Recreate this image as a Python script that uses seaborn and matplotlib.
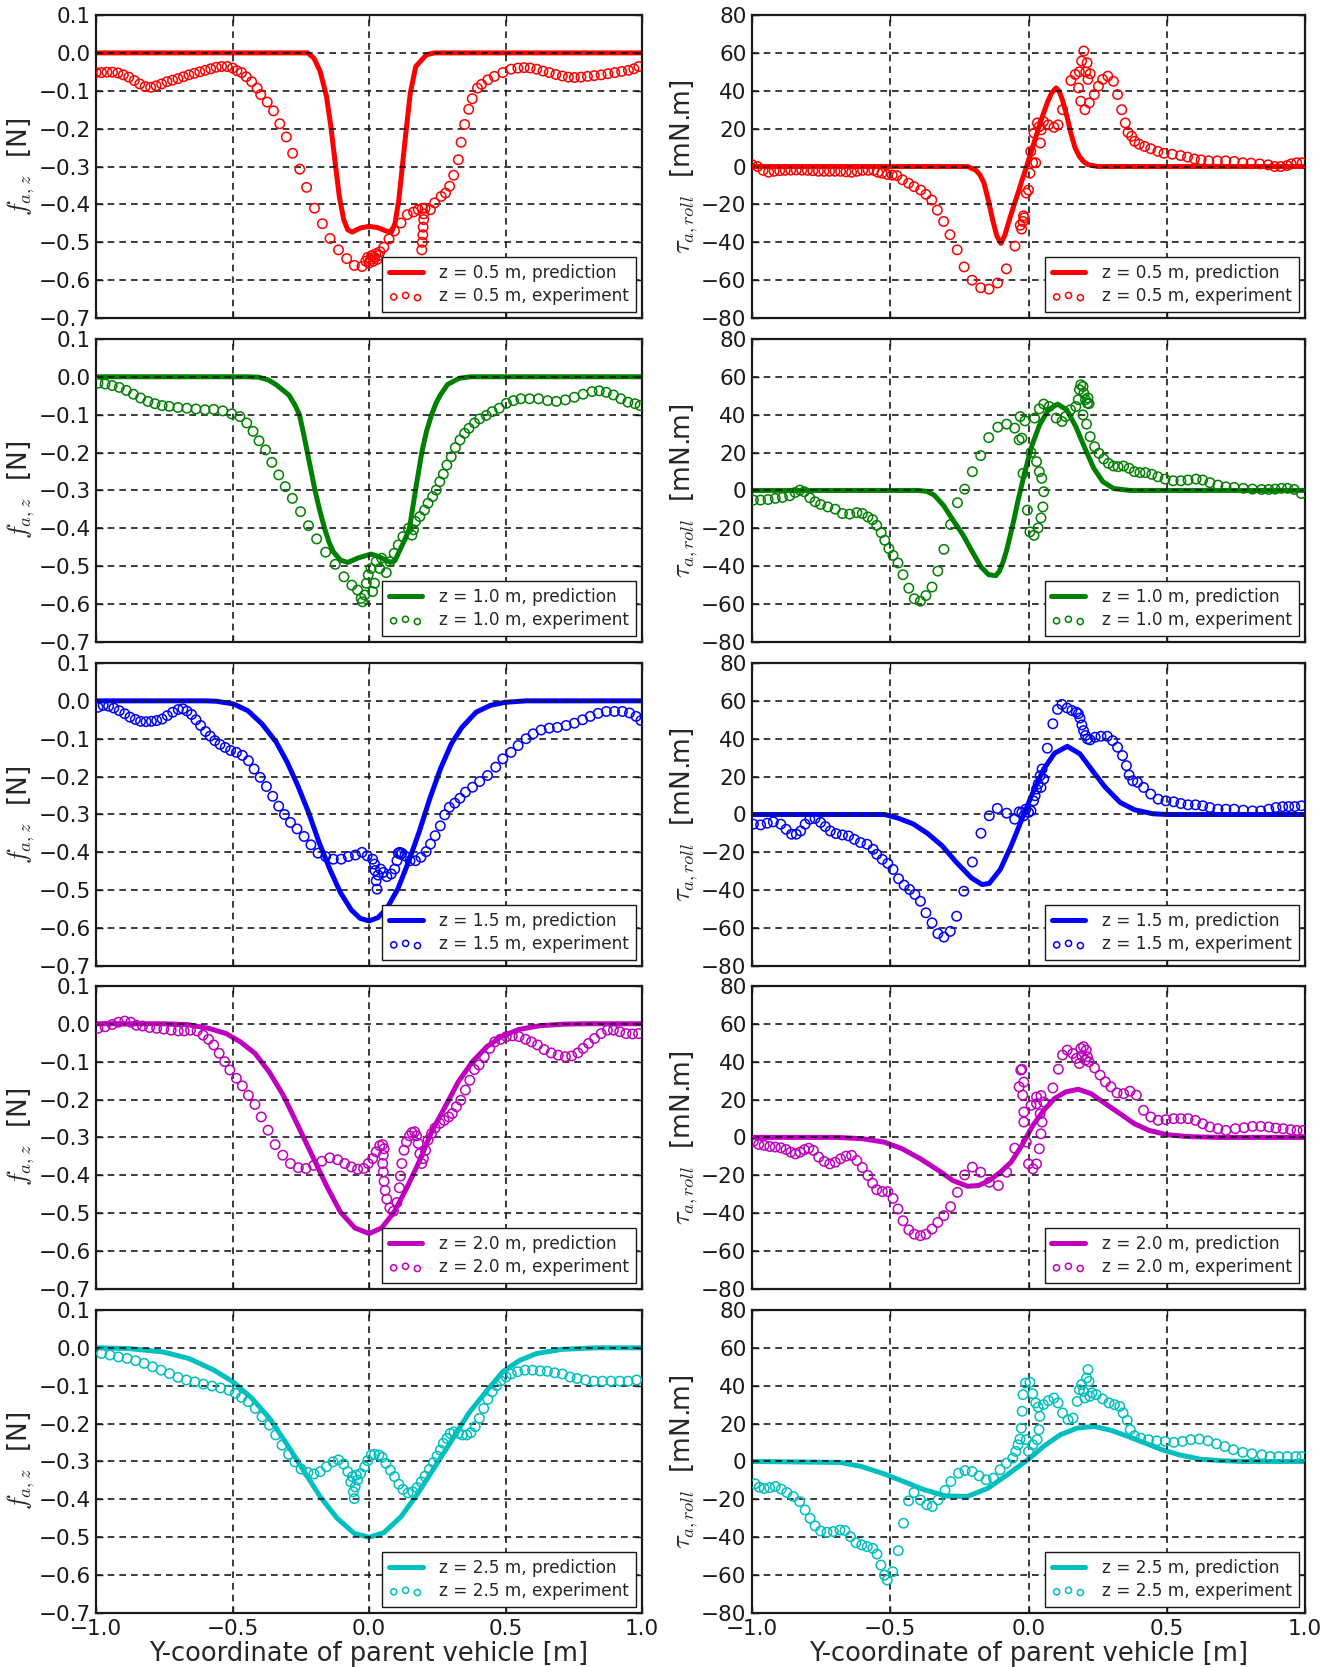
import numpy as np
import matplotlib
matplotlib.use('Agg')
import matplotlib.pyplot as plt
import seaborn as sns

heights = ['0.5', '1.0', '1.5', '2.0', '2.5']
colors = ['#ff0000', '#008000', '#0000ff', '#bf00bf', '#00bfbf']
x_ticks = [-1.0, -0.5, 0.0, 0.5, 1.0]
fz_ticks = [0.1, 0.0, -0.1, -0.2, -0.3, -0.4, -0.5, -0.6, -0.7]
tau_ticks = [80, 60, 40, 20, 0, -20, -40, -60, -80]

# ---------------- z = 0.5 m ----------------
fz_pred_05 = [(-1, 0), (-0.225, 0), (-0.202, -0.014), (-0.179, -0.049), (-0.156, -0.115),
              (-0.14, -0.194), (-0.124, -0.291), (-0.109, -0.379), (-0.093, -0.44),
              (-0.078, -0.467), (-0.062, -0.473), (-0.031, -0.462), (0.0, -0.458),
              (0.031, -0.461), (0.062, -0.47), (0.082, -0.473), (0.095, -0.45),
              (0.109, -0.388), (0.132, -0.23), (0.151, -0.106), (0.171, -0.036),
              (0.21, -0.005), (0.24, 0), (1, 0)]
fz_exp_05 = [(-1.0, -0.052), (-0.98, -0.052), (-0.96, -0.051), (-0.94, -0.051), (-0.92, -0.053),
             (-0.9, -0.058), (-0.88, -0.064), (-0.86, -0.073), (-0.84, -0.082), (-0.82, -0.089),
             (-0.8, -0.091), (-0.78, -0.087), (-0.76, -0.082), (-0.74, -0.076), (-0.72, -0.072),
             (-0.7, -0.068), (-0.68, -0.063), (-0.66, -0.058), (-0.64, -0.054), (-0.62, -0.05),
             (-0.6, -0.046), (-0.58, -0.042), (-0.56, -0.038), (-0.54, -0.036), (-0.52, -0.036),
             (-0.5, -0.04), (-0.484, -0.047), (-0.467, -0.052), (-0.45, -0.063), (-0.43, -0.076),
             (-0.41, -0.093), (-0.397, -0.11), (-0.373, -0.13), (-0.35, -0.153), (-0.327, -0.187),
             (-0.303, -0.222), (-0.28, -0.265), (-0.254, -0.307), (-0.229, -0.355), (-0.2, -0.41),
             (-0.171, -0.451), (-0.143, -0.49), (-0.112, -0.52), (-0.082, -0.543), (-0.054, -0.561),
             (-0.026, -0.564), (-0.012, -0.55), (-0.005, -0.54), (0.0, -0.555), (0.005, -0.545),
             (0.01, -0.535), (0.015, -0.55), (0.02, -0.54), (0.025, -0.53), (0.03, -0.545),
             (0.035, -0.535), (0.04, -0.525), (0.054, -0.513), (0.073, -0.491), (0.093, -0.47),
             (0.117, -0.449), (0.14, -0.427), (0.163, -0.42), (0.18, -0.414), (0.195, -0.41),
             (0.2, -0.425), (0.2, -0.44), (0.198, -0.46), (0.197, -0.48), (0.195, -0.5),
             (0.193, -0.52), (0.205, -0.41), (0.225, -0.414), (0.24, -0.396), (0.264, -0.379),
             (0.28, -0.37), (0.295, -0.352), (0.31, -0.323), (0.327, -0.282), (0.337, -0.236),
             (0.35, -0.189), (0.365, -0.149), (0.378, -0.121), (0.397, -0.093), (0.412, -0.083),
             (0.435, -0.071), (0.459, -0.062), (0.49, -0.052), (0.52, -0.043), (0.545, -0.04),
             (0.568, -0.039), (0.59, -0.04), (0.614, -0.043), (0.637, -0.048), (0.66, -0.052),
             (0.684, -0.057), (0.708, -0.061), (0.73, -0.064), (0.752, -0.065), (0.776, -0.064),
             (0.8, -0.062), (0.825, -0.06), (0.85, -0.058), (0.875, -0.055), (0.9, -0.052),
             (0.925, -0.049), (0.95, -0.046), (0.97, -0.042), (0.988, -0.036)]
tau_pred_05 = [(-1, 0), (-0.22, 0), (-0.19, -2), (-0.175, -4.5), (-0.161, -8.8), (-0.145, -18),
               (-0.13, -28), (-0.115, -36.5), (-0.1, -40.6), (-0.085, -36), (-0.069, -28),
               (-0.054, -21), (-0.038, -14), (-0.023, -7), (-0.008, -0.5), (0.008, 7),
               (0.023, 14), (0.038, 21), (0.054, 28), (0.07, 34.5), (0.084, 39), (0.1, 41.5),
               (0.112, 39.5), (0.123, 35), (0.138, 27), (0.153, 17.7), (0.168, 10),
               (0.184, 5.3), (0.2, 2.5), (0.215, 1), (0.25, 0), (1, 0)]
tau_exp_05 = [(-1.0, 1), (-0.98, 0), (-0.96, -2), (-0.94, -3), (-0.92, -2.5), (-0.9, -2.2),
              (-0.88, -2), (-0.86, -1.9), (-0.84, -1.8), (-0.82, -1.9), (-0.8, -2), (-0.78, -2.2),
              (-0.76, -2.5), (-0.74, -2.5), (-0.72, -2.5), (-0.7, -2.5), (-0.68, -2.5),
              (-0.66, -2.8), (-0.64, -3), (-0.62, -2.5), (-0.6, -2), (-0.58, -2), (-0.56, -2),
              (-0.545, -3), (-0.53, -3.5), (-0.51, -4.2), (-0.493, -4.5), (-0.476, -4.8),
              (-0.456, -7), (-0.434, -8.8), (-0.414, -10.6), (-0.39, -12.4), (-0.371, -14.7),
              (-0.35, -17.7), (-0.33, -23), (-0.307, -29), (-0.284, -36), (-0.258, -44),
              (-0.233, -53), (-0.204, -60), (-0.173, -64), (-0.143, -64.7), (-0.112, -61.5),
              (-0.08, -54), (-0.049, -42), (-0.03, -31), (-0.025, -33), (-0.02, -29),
              (-0.018, -26), (-0.015, -27), (-0.008, -14), (0.0, -12.4), (0.005, -3.5),
              (0.008, 8), (0.015, 2), (0.026, 2), (0.02, 17.7), (0.032, 23), (0.038, 21),
              (0.043, 12.4), (0.046, 19.4), (0.054, 23.8), (0.072, 22), (0.092, 20.7),
              (0.107, 22), (0.123, 30), (0.153, 45.4), (0.169, 48.6), (0.181, 41.5),
              (0.184, 50), (0.189, 34.5), (0.192, 55.7), (0.2, 61), (0.204, 30), (0.207, 50),
              (0.212, 54.8), (0.215, 46), (0.22, 33.6), (0.223, 49), (0.238, 38), (0.253, 42.4),
              (0.268, 46), (0.287, 47.7), (0.307, 45), (0.322, 38), (0.337, 30), (0.35, 23),
              (0.36, 18), (0.373, 16), (0.384, 13.3), (0.4, 11.8), (0.42, 10.6), (0.442, 9.4),
              (0.468, 8), (0.49, 7), (0.52, 6.5), (0.55, 5.8), (0.575, 5), (0.6, 4),
              (0.624, 3.5), (0.652, 3), (0.683, 3), (0.713, 3), (0.744, 2.7), (0.775, 2),
              (0.805, 1.8), (0.836, 1.4), (0.867, 0.9), (0.89, 0), (0.912, 0), (0.935, 0.5),
              (0.95, 1.4), (0.97, 2), (0.99, 2)]

# ---------------- z = 1.0 m ----------------
fz_pred_10 = [(-1, 0), (-0.45, 0), (-0.405, -0.001), (-0.37, -0.008), (-0.34, -0.021),
              (-0.294, -0.048), (-0.272, -0.074), (-0.255, -0.1), (-0.24, -0.15), (-0.226, -0.2),
              (-0.212, -0.25), (-0.198, -0.3), (-0.181, -0.352), (-0.163, -0.4),
              (-0.147, -0.436), (-0.131, -0.462), (-0.105, -0.484),
              (-0.078, -0.49), (-0.039, -0.478), (0.007, -0.468), (0.04, -0.476),
              (0.078, -0.49), (0.095, -0.485), (0.111, -0.46), (0.131, -0.43),
              (0.148, -0.4), (0.17, -0.3), (0.193, -0.2), (0.21, -0.145), (0.229, -0.1),
              (0.245, -0.07), (0.261, -0.048), (0.288, -0.02), (0.33, -0.004), (0.37, 0), (1, 0)]
fz_exp_10 = [(-0.993, -0.017), (-0.967, -0.019), (-0.941, -0.023), (-0.915, -0.028),
             (-0.889, -0.036), (-0.863, -0.046), (-0.837, -0.056), (-0.81, -0.065),
             (-0.784, -0.071), (-0.758, -0.076), (-0.732, -0.078), (-0.7, -0.081),
             (-0.667, -0.083), (-0.634, -0.085), (-0.601, -0.087), (-0.569, -0.086),
             (-0.536, -0.09), (-0.503, -0.098), (-0.473, -0.105), (-0.448, -0.122),
             (-0.425, -0.144), (-0.403, -0.169), (-0.379, -0.193), (-0.356, -0.226),
             (-0.331, -0.259), (-0.307, -0.29), (-0.281, -0.321), (-0.251, -0.356),
             (-0.222, -0.393), (-0.192, -0.428), (-0.159, -0.463), (-0.124, -0.495),
             (-0.092, -0.528), (-0.063, -0.55), (-0.042, -0.563), (-0.029, -0.585),
             (-0.024, -0.594), (-0.016, -0.576), (-0.01, -0.545), (-0.003, -0.523),
             (0.007, -0.506), (0.013, -0.567), (0.02, -0.545), (0.026, -0.488),
             (0.039, -0.506), (0.046, -0.479), (0.063, -0.517), (0.076, -0.488),
             (0.092, -0.466), (0.107, -0.444), (0.124, -0.422), (0.144, -0.4),
             (0.157, -0.418), (0.163, -0.404), (0.17, -0.382), (0.186, -0.369),
             (0.203, -0.352), (0.216, -0.334), (0.233, -0.316), (0.246, -0.299),
             (0.259, -0.277), (0.272, -0.257), (0.285, -0.233), (0.301, -0.211),
             (0.316, -0.187), (0.333, -0.167), (0.35, -0.149), (0.366, -0.136),
             (0.386, -0.122), (0.405, -0.111), (0.429, -0.102), (0.451, -0.092),
             (0.477, -0.083), (0.503, -0.07), (0.529, -0.063), (0.556, -0.058),
             (0.588, -0.058), (0.621, -0.058), (0.654, -0.063), (0.686, -0.065),
             (0.719, -0.061), (0.752, -0.054), (0.784, -0.046), (0.817, -0.039),
             (0.843, -0.037), (0.869, -0.041), (0.895, -0.048), (0.922, -0.058),
             (0.948, -0.067), (0.974, -0.071), (0.993, -0.076)]
tau_pred_10 = [(-1, 0), (-0.4, 0), (-0.367, -0.5), (-0.341, -2.5), (-0.308, -7.8),
               (-0.276, -15), (-0.236, -23.7), (-0.203, -32.5), (-0.171, -40.5),
               (-0.144, -44.5), (-0.118, -45), (-0.105, -42.5), (-0.092, -37.8),
               (-0.079, -31.5), (-0.066, -23.7), (-0.052, -15), (-0.039, -6), (-0.026, 2),
               (-0.013, 9.9), (0.013, 24), (0.04, 34.6), (0.072, 42.6),
               (0.105, 45.6), (0.138, 42.6), (0.171, 33.7), (0.204, 22.3), (0.236, 11.7),
               (0.269, 4.6), (0.308, 1), (0.367, 0), (1, 0)]
tau_exp_10 = [(-0.995, -5.1), (-0.969, -5.1), (-0.942, -4.8), (-0.916, -4.2), (-0.89, -3.7),
              (-0.864, -2.8), (-0.844, -1.1), (-0.827, 0.2), (-0.811, -0.7), (-0.791, -3.9),
              (-0.772, -6), (-0.752, -7.4), (-0.726, -8.7), (-0.699, -9.9), (-0.673, -12.2),
              (-0.647, -12.5), (-0.621, -11.7), (-0.601, -12.2), (-0.581, -14), (-0.564, -15.4),
              (-0.549, -18.4), (-0.533, -22.3), (-0.52, -26.3), (-0.505, -30.7), (-0.49, -34.3),
              (-0.472, -38.3), (-0.454, -44.5), (-0.433, -51.6), (-0.413, -57.2),
              (-0.391, -58.5), (-0.371, -55.5), (-0.349, -51), (-0.328, -42.6),
              (-0.306, -31.1), (-0.282, -18), (-0.257, -6.5), (-0.231, 0.7), (-0.203, 9.9),
              (-0.173, 18.4), (-0.144, 27.9), (-0.111, 33.4), (-0.079, 35), (-0.05, 32.9),
              (-0.034, 26.7), (-0.024, 27.6), (-0.03, 39), (-0.013, 36.7), (-0.02, 9),
              (-0.004, -10.4), (0.005, -21.9), (0.02, -23.7), (0.009, 20), (0.022, 38.2),
              (0.029, 15.2), (0.039, 9.9), (0.048, 6.4), (0.055, -0.7), (0.052, -8.7),
              (0.045, -14.5), (0.035, -19.8), (0.039, 43.1), (0.055, 45.6), (0.075, 44.3),
              (0.1, 38.2), (0.121, 36.4), (0.134, 39), (0.152, 42.6), (0.171, 44.3),
              (0.18, 47.9), (0.184, 53.2), (0.189, 55.8), (0.197, 54.9), (0.2, 51.4),
              (0.206, 47.9), (0.213, 46.1), (0.219, 45.8), (0.215, 48.8), (0.197, 39.9),
              (0.21, 35), (0.223, 28.4), (0.239, 23.1), (0.255, 19.6), (0.272, 16.6),
              (0.289, 14.3), (0.307, 12.9), (0.324, 12.5), (0.344, 12.9), (0.364, 11.7),
              (0.383, 9.9), (0.403, 9.4), (0.423, 9.4), (0.446, 8.5), (0.468, 7.2),
              (0.494, 6), (0.523, 5.1), (0.551, 5.1), (0.577, 5.5), (0.606, 6), (0.63, 5.5),
              (0.656, 4.1), (0.685, 2.8), (0.714, 1.9), (0.744, 1.6), (0.777, 1.1),
              (0.81, 0.7), (0.843, 0.5), (0.869, 0.5), (0.892, 0.7), (0.915, 1.1),
              (0.937, 1.1), (0.961, 0.5), (0.987, -1.6)]

# ---------------- z = 1.5 m ----------------
fz_pred_15 = [(-1, 0), (-0.6, 0), (-0.56, -0.001), (-0.497, -0.008), (-0.444, -0.026),
              (-0.392, -0.061), (-0.34, -0.109), (-0.3, -0.162), (-0.261, -0.224),
              (-0.222, -0.294), (-0.183, -0.374), (-0.144, -0.444), (-0.105, -0.506),
              (-0.065, -0.552), (-0.033, -0.574), (0.0, -0.581), (0.033, -0.572),
              (0.065, -0.548), (0.105, -0.497), (0.144, -0.426), (0.183, -0.347),
              (0.222, -0.259), (0.261, -0.18), (0.301, -0.114), (0.34, -0.07),
              (0.392, -0.03), (0.444, -0.012), (0.497, -0.004), (0.575, 0), (1, 0)]
fz_exp_15 = [(-0.993, -0.017), (-0.974, -0.012), (-0.954, -0.014), (-0.935, -0.019),
             (-0.915, -0.026), (-0.895, -0.034), (-0.876, -0.043), (-0.856, -0.049),
             (-0.837, -0.054), (-0.817, -0.055), (-0.797, -0.054), (-0.778, -0.052),
             (-0.758, -0.048), (-0.739, -0.039), (-0.719, -0.03), (-0.699, -0.023),
             (-0.682, -0.021), (-0.667, -0.027), (-0.65, -0.036), (-0.634, -0.05),
             (-0.617, -0.065), (-0.599, -0.081), (-0.582, -0.093), (-0.565, -0.105),
             (-0.546, -0.115), (-0.527, -0.123), (-0.507, -0.131), (-0.486, -0.136),
             (-0.464, -0.144), (-0.442, -0.158), (-0.421, -0.18), (-0.399, -0.202),
             (-0.376, -0.226), (-0.353, -0.252), (-0.331, -0.278), (-0.31, -0.3),
             (-0.288, -0.321), (-0.264, -0.338), (-0.238, -0.358), (-0.213, -0.38),
             (-0.187, -0.402), (-0.159, -0.411), (-0.131, -0.418), (-0.102, -0.418),
             (-0.076, -0.411), (-0.05, -0.407), (-0.026, -0.4), (-0.007, -0.409),
             (0.013, -0.418), (0.02, -0.431), (0.022, -0.448), (0.026, -0.475),
             (0.029, -0.497), (0.033, -0.46), (0.042, -0.444), (0.052, -0.453),
             (0.065, -0.464), (0.081, -0.457), (0.094, -0.444), (0.102, -0.422),
             (0.107, -0.402), (0.112, -0.4), (0.116, -0.405), (0.12, -0.402),
             (0.131, -0.409), (0.15, -0.422), (0.17, -0.422), (0.19, -0.413),
             (0.209, -0.398), (0.225, -0.378), (0.242, -0.356), (0.261, -0.33),
             (0.277, -0.301), (0.294, -0.281), (0.314, -0.27), (0.333, -0.257),
             (0.353, -0.241), (0.379, -0.228), (0.405, -0.213), (0.434, -0.197),
             (0.464, -0.175), (0.49, -0.153), (0.52, -0.136), (0.546, -0.118),
             (0.575, -0.1), (0.601, -0.087), (0.63, -0.077), (0.66, -0.072),
             (0.69, -0.07), (0.722, -0.065), (0.752, -0.059), (0.782, -0.05),
             (0.81, -0.041), (0.839, -0.033), (0.869, -0.028), (0.899, -0.028),
             (0.928, -0.028), (0.954, -0.032), (0.978, -0.041), (0.996, -0.052)]
tau_pred_15 = [(-1, 0), (-0.52, 0), (-0.47, -2), (-0.417, -5), (-0.365, -10), (-0.312, -16.6),
               (-0.26, -25.4), (-0.207, -33.4), (-0.168, -37), (-0.142, -36.4),
               (-0.102, -29), (-0.063, -16.6), (-0.024, -2.5), (0.016, 11.7), (0.055, 24),
               (0.094, 32.3), (0.14, 36), (0.186, 32), (0.232, 23), (0.278, 14.3),
               (0.331, 6.4), (0.383, 2.5), (0.449, 0.4), (0.5, 0), (1, 0)]
tau_exp_15 = [(-0.995, -5.1), (-0.969, -5.5), (-0.945, -4.6), (-0.923, -3.9), (-0.896, -5.1),
              (-0.877, -7.8), (-0.857, -10.4), (-0.84, -10.4), (-0.824, -8.7), (-0.808, -5.1),
              (-0.791, -2.5), (-0.772, -2.1), (-0.752, -4.2), (-0.735, -6.4), (-0.717, -8.7),
              (-0.696, -10.1), (-0.673, -10.8), (-0.651, -11.3), (-0.63, -13.1),
              (-0.608, -14.8), (-0.584, -15.7), (-0.562, -18.4), (-0.549, -21),
              (-0.529, -23.7), (-0.509, -25.8), (-0.49, -29), (-0.47, -33.9), (-0.45, -37.3),
              (-0.43, -39.6), (-0.411, -42.2), (-0.391, -45.8), (-0.371, -51.9),
              (-0.349, -57.2), (-0.328, -62.9), (-0.306, -64.7), (-0.283, -61.7),
              (-0.26, -53.7), (-0.234, -40.5), (-0.203, -25.1), (-0.172, -9.9),
              (-0.142, -0.7), (-0.113, 3.2), (-0.079, 0.7), (-0.05, -2.5), (-0.034, 1.4),
              (-0.024, 1.1), (-0.017, -0.7), (-0.01, 2.8), (0.0, 1.1), (0.009, 1.9),
              (0.018, 7.2), (0.024, 9.9), (0.029, 13.4), (0.035, 16.1), (0.042, 20.5),
              (0.049, 24), (0.055, 18.7), (0.045, 14.3), (0.068, 35), (0.088, 47.9),
              (0.105, 55.5), (0.121, 58.1), (0.14, 56.2), (0.157, 54.9), (0.173, 54),
              (0.18, 53.2), (0.186, 50.9), (0.193, 47.3), (0.199, 44.3), (0.206, 41.7),
              (0.213, 39.9), (0.223, 39.4), (0.241, 40.8), (0.262, 41.3), (0.285, 41.3),
              (0.304, 39), (0.322, 35.5), (0.34, 31.1), (0.354, 25.8), (0.364, 20.8),
              (0.377, 17.8), (0.394, 17), (0.416, 14.3), (0.442, 10.8), (0.469, 8.1),
              (0.497, 7.2), (0.525, 6.7), (0.551, 5.8), (0.577, 5.1), (0.604, 5.1),
              (0.63, 4.6), (0.656, 3.7), (0.685, 2.8), (0.714, 2.8), (0.744, 2.8),
              (0.777, 2.3), (0.81, 1.9), (0.84, 1.9), (0.869, 2.8), (0.895, 3.7),
              (0.919, 4.1), (0.941, 4.2), (0.963, 4.2), (0.987, 4.6)]

# ---------------- z = 2.0 m ----------------
fz_pred_20 = [(-1, 0), (-0.758, 0), (-0.667, -0.002), (-0.588, -0.012), (-0.523, -0.026),
              (-0.471, -0.048), (-0.418, -0.078), (-0.366, -0.127), (-0.314, -0.189),
              (-0.261, -0.268), (-0.209, -0.347), (-0.157, -0.426), (-0.105, -0.497),
              (-0.052, -0.539), (0.0, -0.554), (0.046, -0.539), (0.092, -0.497),
              (0.137, -0.435), (0.183, -0.365), (0.229, -0.285), (0.275, -0.224),
              (0.327, -0.153), (0.379, -0.1), (0.431, -0.061), (0.484, -0.034),
              (0.549, -0.015), (0.627, -0.005), (0.719, -0.001), (0.81, 0), (1, 0)]
fz_exp_20 = [(-0.993, -0.012), (-0.967, -0.008), (-0.941, -0.002), (-0.918, 0.004),
             (-0.895, 0.007), (-0.873, 0.004), (-0.852, -0.004), (-0.83, -0.006),
             (-0.804, -0.01), (-0.778, -0.012), (-0.752, -0.014), (-0.725, -0.017),
             (-0.699, -0.019), (-0.677, -0.019), (-0.654, -0.017), (-0.63, -0.019),
             (-0.608, -0.03), (-0.588, -0.041), (-0.569, -0.056), (-0.549, -0.078),
             (-0.529, -0.1), (-0.51, -0.122), (-0.486, -0.144), (-0.464, -0.164),
             (-0.442, -0.189), (-0.418, -0.213), (-0.395, -0.246), (-0.37, -0.281),
             (-0.344, -0.319), (-0.316, -0.347), (-0.288, -0.369), (-0.259, -0.38),
             (-0.231, -0.382), (-0.203, -0.374), (-0.173, -0.363), (-0.144, -0.354),
             (-0.115, -0.359), (-0.089, -0.369), (-0.065, -0.378), (-0.042, -0.384),
             (-0.02, -0.382), (-0.003, -0.369), (0.013, -0.356), (0.026, -0.338),
             (0.039, -0.322), (0.05, -0.319), (0.055, -0.33), (0.052, -0.347),
             (0.05, -0.369), (0.052, -0.391), (0.055, -0.416), (0.059, -0.44),
             (0.065, -0.463), (0.076, -0.486), (0.089, -0.495), (0.102, -0.472),
             (0.111, -0.433), (0.115, -0.402), (0.12, -0.369), (0.128, -0.334),
             (0.137, -0.312), (0.148, -0.296), (0.157, -0.287), (0.167, -0.285),
             (0.174, -0.296), (0.18, -0.316), (0.186, -0.343), (0.193, -0.369),
             (0.199, -0.356), (0.207, -0.334), (0.216, -0.307), (0.229, -0.29),
             (0.242, -0.275), (0.259, -0.263), (0.275, -0.255), (0.292, -0.246),
             (0.305, -0.237), (0.32, -0.219), (0.336, -0.202), (0.353, -0.175),
             (0.369, -0.149), (0.386, -0.121), (0.403, -0.109), (0.422, -0.087),
             (0.442, -0.065), (0.46, -0.048), (0.481, -0.041), (0.503, -0.034),
             (0.525, -0.032), (0.549, -0.034), (0.573, -0.041), (0.595, -0.048),
             (0.617, -0.056), (0.641, -0.068), (0.667, -0.077), (0.693, -0.083),
             (0.719, -0.087), (0.742, -0.085), (0.765, -0.077), (0.784, -0.065),
             (0.804, -0.052), (0.826, -0.039), (0.85, -0.026), (0.873, -0.017),
             (0.895, -0.017), (0.918, -0.021), (0.941, -0.026), (0.965, -0.027),
             (0.987, -0.026)]
tau_pred_20 = [(-1, 0), (-0.693, 0), (-0.601, -0.7), (-0.522, -2.5), (-0.457, -6),
               (-0.391, -11.3), (-0.325, -17.5), (-0.273, -22.8), (-0.22, -25.8),
               (-0.181, -25.4), (-0.142, -22.8), (-0.102, -18.4), (-0.063, -13.1),
               (-0.024, -4.2), (0.016, 6.4), (0.055, 14.3), (0.094, 20.5), (0.134, 24),
               (0.18, 25.4), (0.226, 23.1), (0.278, 17.8), (0.331, 12.5), (0.383, 7.2),
               (0.436, 3.7), (0.501, 1.4), (0.58, 0.4), (0.685, 0), (1, 0)]
tau_exp_20 = [(-0.995, -2.1), (-0.976, -3.7), (-0.956, -4.2), (-0.936, -4.8), (-0.916, -5.1),
              (-0.896, -5.5), (-0.877, -6.4), (-0.86, -7.8), (-0.843, -8.7), (-0.826, -7.8),
              (-0.811, -6.5), (-0.795, -5.7), (-0.778, -6.9), (-0.759, -10.4), (-0.739, -12.7),
              (-0.719, -14), (-0.699, -13.1), (-0.68, -11.3), (-0.66, -9.9), (-0.64, -9.5),
              (-0.621, -12.2), (-0.601, -15.9), (-0.581, -20.1), (-0.564, -24.2),
              (-0.549, -27.6), (-0.529, -28.6), (-0.509, -28.6), (-0.49, -32.2),
              (-0.472, -37.8), (-0.454, -44), (-0.433, -48.8), (-0.413, -51.1),
              (-0.391, -51.9), (-0.371, -51.1), (-0.349, -48.4), (-0.328, -44.9),
              (-0.306, -41.3), (-0.282, -36.6), (-0.257, -29), (-0.231, -19.8),
              (-0.203, -15.7), (-0.173, -18.4), (-0.142, -23.7), (-0.109, -25.4),
              (-0.079, -18.4), (-0.05, -5.7), (-0.034, 26.7), (-0.028, 35.5), (-0.024, 36),
              (-0.017, 29.2), (-0.021, 22.3), (-0.017, 13.4), (-0.017, 8.1), (-0.008, -2.5),
              (0.0, -14), (0.016, -16.6), (0.029, -14), (0.039, -6), (0.045, 1.9),
              (0.049, 8.1), (0.042, 12.5), (0.029, 17.8), (0.009, 16.9), (0.029, 21.3),
              (0.045, 22.1), (0.055, 18.7), (0.088, 26.1), (0.108, 36), (0.123, 43.5),
              (0.14, 46.1), (0.16, 44.3), (0.173, 41.7), (0.184, 39), (0.189, 47),
              (0.199, 47.9), (0.209, 46.1), (0.213, 42.6), (0.219, 39.9), (0.206, 40.8),
              (0.193, 43.1), (0.239, 36.7), (0.259, 32.9), (0.278, 29.3), (0.298, 26.7),
              (0.32, 23.5), (0.344, 23.1), (0.367, 24.4), (0.39, 22.3), (0.416, 14.3),
              (0.442, 10.8), (0.469, 9), (0.497, 9.4), (0.525, 9.9), (0.551, 9.9),
              (0.577, 9.9), (0.604, 9), (0.63, 7.2), (0.656, 5.5), (0.685, 4.6),
              (0.714, 3.7), (0.748, 4.6), (0.78, 5.1), (0.81, 5.8), (0.84, 5.8),
              (0.869, 5.5), (0.895, 4.9), (0.921, 4.6), (0.948, 4.1), (0.971, 3.7),
              (0.993, 3.7)]

# ---------------- z = 2.5 m ----------------
fz_pred_25 = [(-1, 0), (-0.879, -0.002), (-0.754, -0.011), (-0.661, -0.028), (-0.568, -0.059),
              (-0.498, -0.09), (-0.428, -0.134), (-0.365, -0.186), (-0.303, -0.252),
              (-0.241, -0.323), (-0.179, -0.393), (-0.117, -0.45), (-0.054, -0.49),
              (0.0, -0.5), (0.054, -0.488), (0.117, -0.446), (0.179, -0.384),
              (0.241, -0.314), (0.303, -0.244), (0.365, -0.173), (0.428, -0.116),
              (0.49, -0.063), (0.552, -0.033), (0.614, -0.015), (0.708, -0.004),
              (0.832, 0), (1, 0)]
fz_exp_25 = [(-0.98, -0.015), (-0.949, -0.019), (-0.918, -0.024), (-0.886, -0.028),
             (-0.855, -0.034), (-0.824, -0.041), (-0.793, -0.05), (-0.762, -0.059),
             (-0.731, -0.068), (-0.7, -0.078), (-0.669, -0.085), (-0.638, -0.09),
             (-0.607, -0.096), (-0.575, -0.101), (-0.544, -0.106), (-0.513, -0.112),
             (-0.49, -0.12), (-0.467, -0.131), (-0.443, -0.142), (-0.417, -0.16),
             (-0.392, -0.182), (-0.365, -0.204), (-0.342, -0.23), (-0.319, -0.257),
             (-0.295, -0.281), (-0.272, -0.301), (-0.249, -0.32), (-0.224, -0.329),
             (-0.202, -0.333), (-0.179, -0.327), (-0.156, -0.314), (-0.132, -0.301),
             (-0.112, -0.296), (-0.093, -0.307), (-0.078, -0.327), (-0.067, -0.354),
             (-0.058, -0.38), (-0.054, -0.398), (-0.051, -0.367), (-0.047, -0.336),
             (-0.061, -0.34), (-0.042, -0.349), (-0.031, -0.332), (-0.016, -0.314),
             (-0.005, -0.298), (0.008, -0.283), (0.02, -0.281), (0.036, -0.283),
             (0.048, -0.289), (0.062, -0.305), (0.078, -0.323), (0.093, -0.34),
             (0.109, -0.36), (0.124, -0.374), (0.143, -0.383), (0.16, -0.38),
             (0.176, -0.369), (0.191, -0.354), (0.205, -0.339), (0.221, -0.321),
             (0.236, -0.303), (0.249, -0.286), (0.261, -0.27), (0.272, -0.252),
             (0.285, -0.239), (0.297, -0.226), (0.311, -0.222), (0.327, -0.226),
             (0.342, -0.23), (0.358, -0.23), (0.373, -0.224), (0.389, -0.208),
             (0.404, -0.186), (0.42, -0.16), (0.435, -0.136), (0.451, -0.116),
             (0.467, -0.1), (0.482, -0.087), (0.502, -0.077), (0.521, -0.069),
             (0.544, -0.063), (0.571, -0.059), (0.599, -0.059), (0.627, -0.061),
             (0.653, -0.062), (0.68, -0.066), (0.708, -0.069), (0.736, -0.077),
             (0.762, -0.081), (0.793, -0.085), (0.824, -0.088), (0.855, -0.088),
             (0.886, -0.088), (0.918, -0.088), (0.949, -0.088), (0.98, -0.085)]
tau_pred_25 = [(-1, 0), (-0.682, -0.5), (-0.606, -2.6), (-0.529, -6.2), (-0.452, -10.6),
               (-0.376, -15), (-0.299, -18.2), (-0.222, -18.5), (-0.146, -14.1),
               (-0.069, -6.2), (0.0, 1.2), (0.054, 7.9), (0.115, 14.1), (0.176, 17.6),
               (0.238, 18.5), (0.299, 16.4), (0.36, 13.2), (0.422, 9.7), (0.483, 6.2),
               (0.545, 3.5), (0.621, 1.2), (0.698, 0.4), (0.775, 0), (1, 0)]
tau_exp_25 = [(-0.989, -11.8), (-0.974, -13.6), (-0.956, -14.3), (-0.936, -13.8),
              (-0.916, -13.2), (-0.894, -14.6), (-0.874, -16.4), (-0.851, -18.5),
              (-0.828, -21.2), (-0.808, -25.6), (-0.79, -30), (-0.772, -34), (-0.752, -36.7),
              (-0.729, -37.4), (-0.706, -37), (-0.682, -36.2), (-0.664, -36.5),
              (-0.644, -39.7), (-0.624, -42.9), (-0.603, -44.1), (-0.583, -45),
              (-0.563, -45.9), (-0.548, -48.9), (-0.534, -54.7), (-0.521, -60),
              (-0.511, -62.6), (-0.491, -58.2), (-0.471, -47.1), (-0.452, -32.6),
              (-0.434, -20.8), (-0.414, -16.4), (-0.391, -20.3), (-0.368, -22.9),
              (-0.348, -23.8), (-0.327, -20.3), (-0.302, -15.3), (-0.281, -10.6),
              (-0.253, -6.2), (-0.23, -4.8), (-0.204, -5.3), (-0.179, -7.6), (-0.153, -9.7),
              (-0.127, -8.8), (-0.103, -4.4), (-0.08, -0.9), (-0.057, 1.8), (-0.046, 5.3),
              (-0.038, 8.8), (-0.031, 11.8), (-0.026, 17.6), (-0.023, 26.5), (-0.02, 35.3),
              (-0.011, 41.4), (0.005, 41.8), (0.015, 35.8), (0.026, 30.9), (0.035, 28.7),
              (0.041, 23.8), (0.038, 16.8), (0.031, 11.5), (0.015, 8.8), (0.0, 5.3),
              (-0.008, 11.5), (0.054, 30), (0.072, 32.1), (0.092, 33.5), (0.107, 30.9),
              (0.123, 25.6), (0.143, 22), (0.161, 22.9), (0.176, 31.7), (0.184, 37.9),
              (0.192, 40.6), (0.199, 37), (0.204, 33.5), (0.21, 44.1), (0.215, 48.5),
              (0.219, 42.3), (0.222, 34.4), (0.23, 36.2), (0.245, 35.3), (0.268, 33),
              (0.291, 30.9), (0.311, 30), (0.33, 29.1), (0.342, 25.6), (0.357, 21.7),
              (0.368, 16.8), (0.383, 13.6), (0.406, 12.3), (0.434, 11.5), (0.464, 10.9),
              (0.495, 10.6), (0.526, 10.1), (0.557, 10.6), (0.587, 11.5), (0.618, 11.8),
              (0.649, 10.9), (0.68, 9.3), (0.71, 7.9), (0.741, 6.2), (0.775, 4.8),
              (0.808, 4.1), (0.844, 3.5), (0.874, 2.6), (0.905, 2.6), (0.936, 2.6),
              (0.967, 2.6), (0.989, 2.6)]

fz_pred = [fz_pred_05, fz_pred_10, fz_pred_15, fz_pred_20, fz_pred_25]
fz_exp = [fz_exp_05, fz_exp_10, fz_exp_15, fz_exp_20, fz_exp_25]
tau_pred = [tau_pred_05, tau_pred_10, tau_pred_15, tau_pred_20, tau_pred_25]
tau_exp = [tau_exp_05, tau_exp_10, tau_exp_15, tau_exp_20, tau_exp_25]

# ---------------- drawing ----------------
sns.set_theme(style='white')
plt.rcParams['font.family'] = ['DejaVu Sans']
plt.rcParams['mathtext.fontset'] = 'cm'
plt.rcParams['axes.unicode_minus'] = True

fig = plt.figure(figsize=(13.36, 16.67), dpi=100)
bottoms = [0.8092, 0.6149, 0.4205, 0.2268, 0.0324]
row_h = 0.1818
col_specs = [(0.0719, 0.4087), (0.5629, 0.4139)]

for i in range(5):
    c = colors[i]
    for j in range(2):
        left, width = col_specs[j]
        ax = fig.add_axes([left, bottoms[i], width, row_h])
        pred = np.array(fz_pred[i] if j == 0 else tau_pred[i], dtype=float)
        exp = np.array(fz_exp[i] if j == 0 else tau_exp[i], dtype=float)
        sns.scatterplot(x=exp[:, 0], y=exp[:, 1], ax=ax, color=c, facecolor='none',
                        edgecolor=c, s=46, linewidth=1.1, zorder=3,
                        label=f'z = {heights[i]} m, experiment', legend=False)
        sns.lineplot(x=pred[:, 0], y=pred[:, 1], ax=ax, color=c, linewidth=3.6,
                     sort=False, estimator=None, zorder=2,
                     label=f'z = {heights[i]} m, prediction', legend=False)
        ax.set_xlim(-1, 1)
        ax.set_xticks(x_ticks)
        if j == 0:
            ax.set_ylim(-0.7, 0.1)
            ax.set_yticks(fz_ticks)
            ax.set_ylabel(r'$f_{a,z}$  [N]', fontsize=19, labelpad=1)
        else:
            ax.set_ylim(-80, 80)
            ax.set_yticks(tau_ticks)
            ax.set_ylabel(r'$\tau_{a,roll}$  [mN.m]', fontsize=19, labelpad=1)
        ax.set_axisbelow(False)
        ax.grid(True, color='k', linestyle=(0, (4, 3)), linewidth=1.2, zorder=2.5)
        for sp in ax.spines.values():
            sp.set_color('k')
            sp.set_linewidth(1.6)
        ax.tick_params(axis='both', which='major', labelsize=15.5, direction='in',
                       length=5, width=1, colors='k', top=True, right=True,
                       bottom=True, left=True, pad=4)
        if i < 4:
            ax.tick_params(labelbottom=False)
            ax.set_xlabel('')
        else:
            ax.set_xlabel('Y-coordinate of parent vehicle [m]', fontsize=18.5, labelpad=2)
        handles = [ax.lines[-1], ax.collections[-1]]
        labels = [f'z = {heights[i]} m, prediction', f'z = {heights[i]} m, experiment']
        leg = ax.legend(handles, labels, loc='lower right', fontsize=12.2, scatterpoints=3,
                        markerscale=0.65, frameon=True, fancybox=False, framealpha=1,
                        edgecolor='k', borderaxespad=0.35, handlelength=2.0,
                        handletextpad=1.0, borderpad=0.4, labelspacing=0.3)
        leg.get_frame().set_linewidth(1.0)

fig.savefig('out.png', dpi=100)
